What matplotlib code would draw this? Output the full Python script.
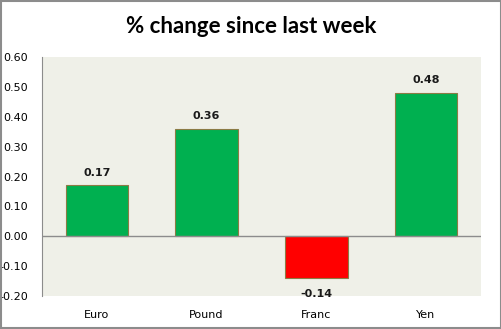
import matplotlib.pyplot as plt
from matplotlib.patches import Rectangle

currencies = ['Euro', 'Pound', 'Franc', 'Yen']
changes = [0.17, 0.36, -0.14, 0.48]
yticks = [-0.2, -0.1, 0.0, 0.1, 0.2, 0.3, 0.4, 0.5, 0.6]

green = '#00B050'
red = '#FF0000'
colors = [green if v >= 0 else red for v in changes]

fig = plt.figure(figsize=(5.02, 3.29), dpi=100)
fig.patch.set_facecolor('white')
fig.patches.append(Rectangle((0.001, 0.002), 0.997, 0.995, transform=fig.transFigure,
                             fill=False, edgecolor='#8c8c8c', linewidth=1.5))

ax = fig.add_axes([0.0837, 0.1003, 0.8743, 0.7264])
ax.set_facecolor('#EFF0E8')

x = range(len(currencies))
ax.bar(x, changes, width=0.57, color=colors, edgecolor='#8B7B45', linewidth=0.8, zorder=2)
ax.axhline(0, color='#8c8c8c', linewidth=1, zorder=3)

# value labels above / below the bars
for i, v in enumerate(changes):
    off = 9 if v >= 0 else -11.5
    ax.annotate('%.2f' % v, (i, v), xytext=(0, off), textcoords='offset points',
                ha='center', va='center', fontsize=8, fontweight='bold',
                family='DejaVu Sans', color='#1a1a1a')

ax.set_xlim(-0.5, 3.5)
ax.set_ylim(-0.2, 0.6)
ax.set_yticks(yticks)
ax.set_yticklabels(['%.2f' % t for t in yticks], fontsize=8, family='DejaVu Sans')
ax.set_xticks(list(x))
ax.set_xticklabels(currencies, fontsize=8, family='DejaVu Sans')
ax.tick_params(axis='y', length=0, pad=10)
ax.tick_params(axis='x', length=0, pad=10)

for s in ['top', 'right', 'bottom']:
    ax.spines[s].set_visible(False)
ax.spines['left'].set_color('#8c8c8c')

fig.text(0.5, 0.918, '% change since last week', ha='center', va='center',
         fontsize=16, fontweight='bold', family='Lato')

fig.savefig('out.png', dpi=100)
